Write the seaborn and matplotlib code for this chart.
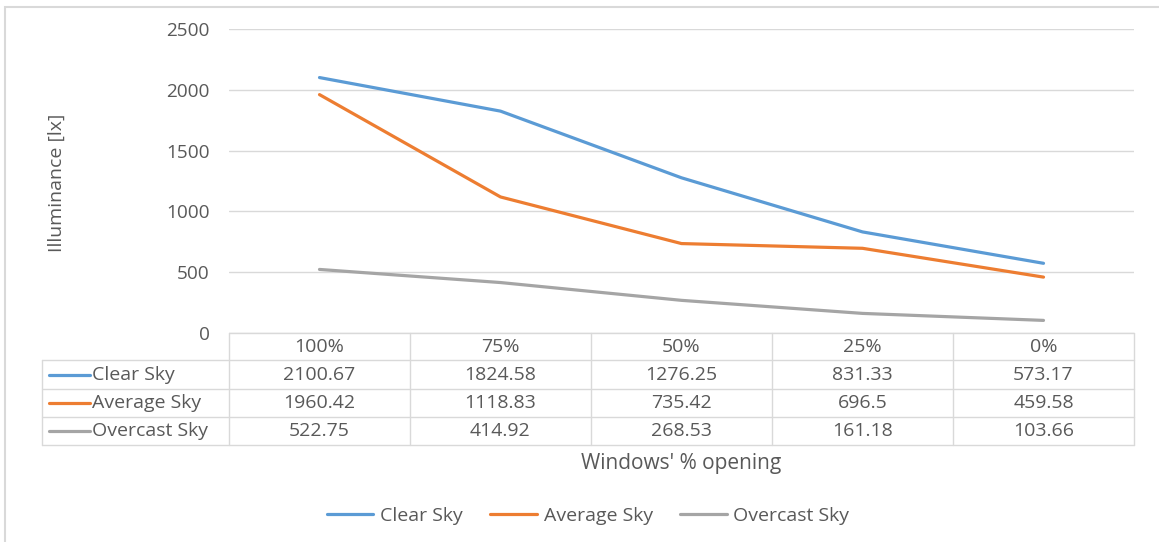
import matplotlib
matplotlib.use("Agg")
import matplotlib.pyplot as plt
import matplotlib.transforms as mtransforms
from matplotlib.lines import Line2D
from matplotlib.patches import Rectangle
import seaborn as sns
import pandas as pd

# ---- data -------------------------------------------------------------
openings = ["100%", "75%", "50%", "25%", "0%"]
clear_sky = [2100.67, 1824.58, 1276.25, 831.33, 573.17]
average_sky = [1960.42, 1118.83, 735.42, 696.5, 459.58]
overcast_sky = [522.75, 414.92, 268.53, 161.18, 103.66]
series_names = ["Clear Sky", "Average Sky", "Overcast Sky"]
y_ticks = [0, 500, 1000, 1500, 2000, 2500]

series_values = [clear_sky, average_sky, overcast_sky]
df = pd.DataFrame({
    "opening": openings * 3,
    "pos": list(range(len(openings))) * 3,
    "lux": clear_sky + average_sky + overcast_sky,
    "sky": [n for n in series_names for _ in openings],
})

# ---- style ------------------------------------------------------------
sns.set_theme(style="white")
plt.rcParams["font.family"] = ["Open Sans", "DejaVu Sans"]
TXT = "#595959"
GRID = "#D9D9D9"
palette = {"Clear Sky": "#5B9BD5", "Average Sky": "#ED7D31", "Overcast Sky": "#A5A5A5"}
FS = 14

W, H = 1159, 542
fig = plt.figure(figsize=(W / 100, H / 100), dpi=100)
fig.patch.set_facecolor("white")


def fx(px):
    return px / W


def fy(py):
    return 1 - py / H


ax = fig.add_axes([fx(229), fy(333), fx(1134) - fx(229), fy(29) - fy(333)])
sns.lineplot(data=df, x="pos", y="lux", hue="sky", palette=palette,
             hue_order=series_names, linewidth=2.3, ax=ax, legend=False,
             sort=False)
for ln in ax.lines:
    ln.set_solid_capstyle("round")
    ln.set_solid_joinstyle("round")

ax.set_xlim(-0.5, len(openings) - 0.5)
ax.set_ylim(0, 2500)
ax.set_yticks(y_ticks)
ax.set_yticklabels([str(v) for v in y_ticks], color=TXT, fontsize=FS - 0.3)
ax.set_xticks([])
ax.set_xlabel("")
ax.set_ylabel("")
ax.tick_params(axis="y", length=0, pad=14)
ax.grid(axis="y", color=GRID, linewidth=1.0)
for s in ax.spines.values():
    s.set_visible(False)

# y-axis title
fig.text(fx(57), fy(183), "Illuminance [lx]", rotation=90, ha="center",
         va="center", color=TXT, fontsize=FS)

# ---- data table under the plot -----------------------------------------
tr = mtransforms.blended_transform_factory(ax.transData, fig.transFigure)
row_edges = [333, 360, 389, 417, 445]
n = len(openings)
lkw = dict(color=GRID, linewidth=1.0, clip_on=False)

# horizontal lines
ax.add_line(Line2D([-0.5, n - 0.5], [fy(row_edges[0])] * 2, transform=tr, **lkw))
for py in row_edges[1:]:
    fig.add_artist(Line2D([fx(42), fx(1134)], [fy(py)] * 2,
                          transform=fig.transFigure, **lkw))
# vertical lines
for i in range(n + 1):
    ax.add_line(Line2D([i - 0.5] * 2, [fy(row_edges[0]), fy(row_edges[-1])],
                       transform=tr, **lkw))
fig.add_artist(Line2D([fx(42)] * 2, [fy(row_edges[1]), fy(row_edges[-1])],
                      transform=fig.transFigure, **lkw))

# header cells
hy = fy((row_edges[0] + row_edges[1]) / 2 + 1)
for i, lab in enumerate(openings):
    ax.text(i, hy, lab, transform=tr, ha="center", va="center",
            color=TXT, fontsize=FS)

# series rows
for r, (name, vals) in enumerate(zip(series_names, series_values)):
    cy = fy((row_edges[r + 1] + row_edges[r + 2]) / 2)
    fig.add_artist(Line2D([fx(49), fx(90)], [cy, cy], transform=fig.transFigure,
                          color=palette[name], linewidth=2.3,
                          solid_capstyle="round"))
    fig.text(fx(92), cy, name, ha="left", va="center", color=TXT, fontsize=FS)
    for i, v in enumerate(vals):
        ax.text(i, cy, f"{v:g}", transform=tr, ha="center", va="center",
                color=TXT, fontsize=FS)

# x-axis title
ax.text((n - 1) / 2, fy(463), "Windows' % opening", transform=tr,
        ha="center", va="center", color=TXT, fontsize=FS + 1)

# ---- legend -------------------------------------------------------------
handles = [Line2D([0], [0], color=palette[nm], linewidth=2.3,
                  solid_capstyle="round") for nm in series_names]
fig.legend(handles, series_names, loc="center", bbox_to_anchor=(fx(588), fy(516)),
           ncol=3, frameon=False, fontsize=FS, handlelength=2.4,
           handletextpad=0.35, columnspacing=1.4, labelcolor=TXT)

# ---- chart border -------------------------------------------------------
fig.add_artist(Rectangle((fx(5), fy(H + 20)), 1.2, fy(7) - fy(H + 20),
                         transform=fig.transFigure, fill=False,
                         edgecolor="#D9D9D9", linewidth=1.5, clip_on=False))

fig.savefig("out.png", dpi=100, facecolor="white")
